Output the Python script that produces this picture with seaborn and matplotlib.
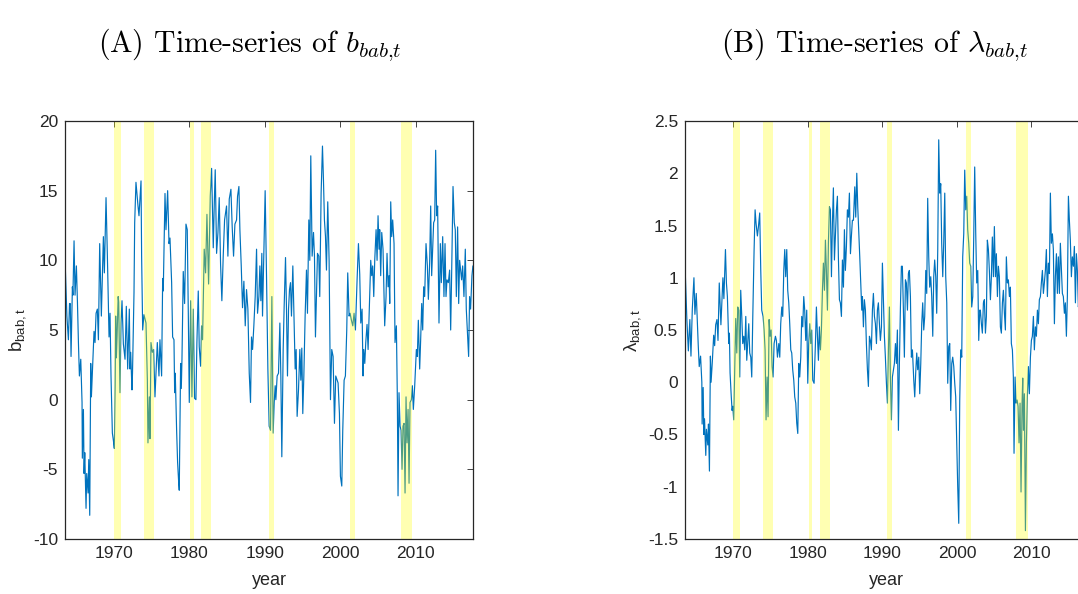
import matplotlib
matplotlib.use("Agg")
import matplotlib.pyplot as plt
import seaborn as sns
import pandas as pd
from matplotlib.ticker import FuncFormatter

sns.set_style("white")
plt.rcParams["font.family"] = ["Liberation Sans", "DejaVu Sans"]
plt.rcParams["axes.unicode_minus"] = False

# ---------------- data (decimal year, value) ----------------
b_bab_points = [
    (1963.51, 10.0), (1963.75, 6.0), (1963.95, 4.3), (1964.10, 6.9), (1964.20, 6.9), (1964.30, 3.1),
    (1964.48, 8.1), (1964.55, 7.5), (1964.70, 11.4), (1964.83, 7.5), (1965.01, 9.6), (1965.15, 7.0),
    (1965.28, 4.1), (1965.41, 1.7), (1965.59, 2.9), (1965.70, 1.0), (1965.76, -0.2), (1965.80, -4.2),
    (1965.94, -0.7), (1966.03, -5.3), (1966.12, -3.8), (1966.29, -7.8), (1966.38, -5.3), (1966.56, -6.7),
    (1966.65, -4.3), (1966.78, -8.3), (1966.91, 2.6), (1967.00, 0.2), (1967.17, 2.4), (1967.35, 4.9),
    (1967.48, 4.1), (1967.62, 6.2), (1967.79, 6.5), (1967.93, 4.3), (1968.10, 11.2), (1968.32, 6.0),
    (1968.59, 11.7), (1968.72, 9.1), (1968.94, 14.5), (1969.12, 10.3), (1969.34, 4.5), (1969.47, 6.2),
    (1969.60, 1.7), (1969.78, -2.4), (1969.91, -2.9), (1970.04, -3.5), (1970.15, 1.0), (1970.22, 6.0),
    (1970.31, 3.0), (1970.40, 4.5), (1970.55, 7.4), (1970.62, 7.0), (1970.79, 0.5), (1970.93, 5.5),
    (1971.06, 7.1), (1971.24, 4.0), (1971.46, 2.9), (1971.63, 6.7), (1971.81, 2.2), (1972.03, 6.5),
    (1972.12, 2.2), (1972.21, 3.4), (1972.38, 0.7), (1972.45, 1.9), (1972.65, 7.7), (1972.74, 12.7),
    (1972.91, 15.6), (1973.18, 13.9), (1973.31, 13.2), (1973.58, 15.7), (1973.66, 10.3), (1973.80, 5.0),
    (1973.97, 6.1), (1974.24, 5.5), (1974.42, 1.4), (1974.50, -3.1), (1974.68, 0.2), (1974.77, -2.8),
    (1974.90, 4.1), (1975.08, 3.4), (1975.25, 3.6), (1975.43, 0.2), (1975.74, 4.1), (1975.96, 1.7),
    (1976.09, 4.3), (1976.31, 1.7), (1976.45, 8.7), (1976.53, 7.8), (1976.76, 14.8), (1976.89, 12.2),
    (1977.11, 15.0), (1977.29, 11.2), (1977.42, 11.6), (1977.64, 8.4), (1977.77, 4.5), (1977.95, 4.3),
    (1978.04, 0.5), (1978.12, 1.9), (1978.30, -2.2), (1978.43, -4.5), (1978.57, -5.9), (1978.65, -6.5),
    (1978.83, 2.6), (1978.92, 0.8), (1979.01, 2.9), (1979.18, 9.2), (1979.36, 6.9), (1979.54, 12.6),
    (1979.71, 12.2), (1979.85, 6.2), (1979.98, -0.2), (1980.16, 7.1), (1980.33, 0.2), (1980.51, 6.5),
    (1980.68, 0.1), (1980.86, 0.0), (1980.99, 4.1), (1981.17, 7.8), (1981.30, 3.8), (1981.48, 2.4),
    (1981.61, 5.3), (1981.74, 4.3), (1981.96, 10.8), (1982.14, 9.1), (1982.32, 13.3), (1982.54, 8.3),
    (1982.76, 14.6), (1982.94, 16.6), (1983.16, 10.9), (1983.29, 14.0), (1983.42, 16.5), (1983.60, 10.5),
    (1983.78, 12.0), (1983.95, 14.5), (1984.13, 9.7), (1984.30, 7.1), (1984.48, 10.3), (1984.66, 12.9),
    (1984.92, 13.9), (1985.10, 10.3), (1985.28, 14.4), (1985.50, 15.1), (1985.67, 12.4), (1985.85, 10.3),
    (1986.03, 12.6), (1986.25, 12.9), (1986.38, 14.6), (1986.56, 15.3), (1986.69, 12.2), (1986.87, 9.6),
    (1987.04, 6.6), (1987.22, 8.5), (1987.40, 5.3), (1987.57, 7.9), (1987.75, 6.5), (1987.93, 1.9),
    (1988.10, -0.2), (1988.23, 4.5), (1988.37, 3.6), (1988.54, 5.3), (1988.72, 7.4), (1988.90, 10.8),
    (1989.03, 6.2), (1989.21, 7.4), (1989.34, 9.6), (1989.47, 7.1), (1989.60, 10.5), (1989.69, 6.0),
    (1989.87, 10.5), (1990.04, 15.0), (1990.22, 8.9), (1990.40, 2.2), (1990.57, -1.9), (1990.75, -2.2),
    (1990.93, 7.4), (1991.10, -2.4), (1991.24, -0.2), (1991.37, 1.0), (1991.46, 0.0), (1991.63, 1.7),
    (1991.81, 1.9), (1991.99, 5.5), (1992.12, 1.7), (1992.25, -4.1), (1992.43, 3.6), (1992.56, 6.7),
    (1992.74, 10.2), (1992.87, 6.5), (1993.00, 1.7), (1993.14, 6.5), (1993.27, 7.9), (1993.40, 8.4),
    (1993.53, 6.0), (1993.71, 9.6), (1993.84, 6.5), (1994.02, 2.2), (1994.15, 3.6), (1994.28, -1.2),
    (1994.46, 0.7), (1994.64, 3.6), (1994.77, 1.4), (1994.90, 3.7), (1995.03, -1.0), (1995.17, 1.7),
    (1995.34, 6.0), (1995.52, 9.3), (1995.65, 6.2), (1995.83, 12.9), (1995.96, 10.0), (1996.09, 17.5),
    (1996.27, 10.3), (1996.45, 12.0), (1996.58, 10.3), (1996.71, 4.5), (1996.84, 7.4), (1996.98, 10.5),
    (1997.15, 10.3), (1997.28, 7.4), (1997.46, 14.8), (1997.64, 18.2), (1997.77, 15.8), (1997.90, 12.9),
    (1998.04, 11.7), (1998.17, 9.3), (1998.34, 14.2), (1998.52, 10.0), (1998.70, 0.0), (1998.87, 3.6),
    (1999.05, 3.1), (1999.23, -1.7), (1999.40, 1.7), (1999.58, 1.4), (1999.71, 1.2), (1999.89, -1.0),
    (2000.02, -5.5), (2000.20, -6.2), (2000.33, -2.2), (2000.51, 1.4), (2000.68, 1.7), (2000.86, 5.0),
    (2000.99, 9.1), (2001.17, 6.0), (2001.30, 6.2), (2001.48, 5.7), (2001.66, 5.3), (2001.83, 6.2),
    (2002.01, 5.0), (2002.23, 8.6), (2002.41, 11.2), (2002.58, 9.0), (2002.72, 5.5), (2002.89, 6.5),
    (2003.02, 1.7), (2003.11, 3.6), (2003.25, 2.6), (2003.38, 4.1), (2003.55, 5.4), (2003.69, 3.6),
    (2003.82, 6.0), (2004.04, 10.0), (2004.17, 8.9), (2004.30, 9.6), (2004.44, 7.4), (2004.57, 10.0),
    (2004.75, 12.2), (2004.88, 10.0), (2005.01, 13.2), (2005.14, 10.8), (2005.23, 12.2), (2005.36, 8.9),
    (2005.50, 12.0), (2005.67, 10.8), (2005.89, 5.3), (2006.07, 7.4), (2006.20, 10.5), (2006.34, 8.1),
    (2006.47, 8.9), (2006.56, 6.9), (2006.69, 14.2), (2006.82, 11.7), (2006.95, 12.9), (2007.13, 11.2),
    (2007.26, 4.1), (2007.44, 5.3), (2007.57, 0.0), (2007.66, -6.9), (2007.79, 0.5), (2007.93, -1.9),
    (2008.06, -2.2), (2008.19, -5.0), (2008.32, -1.9), (2008.46, -1.7), (2008.59, -6.7), (2008.72, 0.2),
    (2008.85, -3.1), (2008.99, -0.7), (2009.12, -6.0), (2009.25, -0.2), (2009.43, 0.0), (2009.56, 1.0),
    (2009.69, -0.7), (2009.87, 1.0), (2010.09, 3.6), (2010.22, 3.1), (2010.35, 5.7), (2010.53, 2.2),
    (2010.66, 4.3), (2010.80, 6.9), (2010.93, 5.0), (2011.06, 8.1), (2011.19, 7.4), (2011.37, 11.2),
    (2011.55, 9.6), (2011.68, 7.2), (2011.85, 9.8), (2011.99, 13.9), (2012.12, 8.9), (2012.25, 10.8),
    (2012.38, 12.7), (2012.52, 12.9), (2012.65, 17.9), (2012.78, 13.2), (2012.91, 13.9), (2013.09, 5.5),
    (2013.27, 11.2), (2013.40, 8.4), (2013.58, 11.7), (2013.75, 7.4), (2013.89, 11.2), (2014.02, 7.4),
    (2014.15, 8.6), (2014.33, 8.4), (2014.50, 9.3), (2014.64, 5.0), (2014.77, 9.1), (2014.95, 15.3),
    (2015.12, 12.7), (2015.25, 12.2), (2015.39, 7.4), (2015.56, 12.4), (2015.70, 6.9), (2015.83, 10.0),
    (2015.96, 9.3), (2016.09, 8.6), (2016.23, 9.6), (2016.40, 7.4), (2016.58, 10.8), (2016.71, 6.5),
    (2016.89, 4.5), (2017.02, 3.1), (2017.15, 7.4), (2017.28, 6.5), (2017.46, 8.9), (2017.59, 9.6),
]

lambda_bab_points = [
    (1963.51, 1.10), (1963.75, 0.60), (1963.95, 0.30), (1964.15, 0.60), (1964.30, 0.25), (1964.48, 0.70),
    (1964.70, 1.00), (1964.83, 0.65), (1965.01, 0.85), (1965.28, 0.35), (1965.41, 0.15), (1965.59, 0.25),
    (1965.76, 0.00), (1965.80, -0.40), (1965.94, -0.05), (1966.03, -0.50), (1966.12, -0.35), (1966.29, -0.70),
    (1966.38, -0.45), (1966.56, -0.60), (1966.65, -0.40), (1966.78, -0.85), (1966.91, 0.25), (1967.00, 0.00),
    (1967.17, 0.20), (1967.35, 0.45), (1967.48, 0.35), (1967.62, 0.55), (1967.79, 0.60), (1967.93, 0.40),
    (1968.10, 0.95), (1968.32, 0.55), (1968.59, 1.00), (1968.72, 0.80), (1968.93, 1.27),
    (1969.06, 0.95), (1969.19, 0.82), (1969.37, 0.37), (1969.46, 0.47), (1969.55, 0.09), (1969.69, -0.11),
    (1969.82, -0.27), (1969.91, -0.23), (1970.04, -0.36), (1970.18, 0.12), (1970.31, 0.61), (1970.45, 0.28),
    (1970.58, 0.72), (1970.72, 0.69), (1970.85, 0.05), (1970.98, 0.88), (1971.12, 0.63), (1971.25, 0.37),
    (1971.39, 0.44), (1971.52, 0.31), (1971.66, 0.63), (1971.79, 0.21), (1971.92, 0.37), (1972.06, 0.56),
    (1972.19, 0.28), (1972.33, 0.24), (1972.46, 0.05), (1972.60, 0.63), (1972.77, 1.25), (1972.91, 1.65),
    (1973.04, 1.52), (1973.22, 1.40), (1973.36, 1.49), (1973.53, 1.62), (1973.67, 1.07), (1973.80, 0.69),
    (1973.98, 0.63), (1974.12, 0.50), (1974.25, 0.31), (1974.38, -0.36), (1974.52, 0.05), (1974.65, -0.33),
    (1974.79, 0.60), (1974.92, 0.44), (1975.06, 0.50), (1975.19, 0.15), (1975.32, 0.05), (1975.46, 0.37),
    (1975.64, 0.44), (1975.77, 0.40), (1975.91, 0.24), (1976.09, 0.37), (1976.22, 0.24), (1976.35, 0.56),
    (1976.49, 0.72), (1976.62, 0.63), (1976.76, 1.07), (1976.89, 1.27), (1977.02, 1.01), (1977.16, 1.27),
    (1977.29, 0.88), (1977.43, 0.76), (1977.56, 0.56), (1977.70, 0.31), (1977.83, 0.28), (1977.96, 0.12),
    (1978.10, 0.02), (1978.23, -0.14), (1978.37, -0.20), (1978.50, -0.39), (1978.64, -0.49), (1978.77, 0.18),
    (1978.90, 0.05), (1979.04, 0.24), (1979.17, 0.63), (1979.31, 0.53), (1979.44, 0.82), (1979.57, 0.69),
    (1979.71, 0.40), (1979.84, 0.69), (1979.98, -0.01), (1980.11, 0.37), (1980.25, 0.56), (1980.38, 0.37),
    (1980.51, 0.50), (1980.65, 0.02), (1980.83, -0.01), (1981.01, 0.37),
    (1981.14, 0.72), (1981.28, 0.44), (1981.41, 0.21), (1981.54, 0.53), (1981.68, 0.31), (1981.81, 0.50),
    (1981.95, 0.88), (1982.08, 1.14), (1982.22, 0.88), (1982.35, 1.36), (1982.48, 1.07), (1982.62, 0.69),
    (1982.75, 1.33), (1982.89, 1.68), (1983.02, 1.65), (1983.16, 1.01), (1983.29, 1.52), (1983.42, 1.86),
    (1983.56, 1.17), (1983.69, 1.40), (1983.83, 1.65), (1983.96, 1.78), (1984.09, 1.20), (1984.23, 0.79),
    (1984.36, 0.76), (1984.50, 0.63), (1984.63, 1.17), (1984.77, 0.91), (1984.90, 1.46), (1985.03, 1.07),
    (1985.17, 1.30), (1985.30, 1.65), (1985.44, 1.58), (1985.57, 1.81), (1985.71, 1.23), (1985.84, 1.40),
    (1985.97, 1.55), (1986.11, 1.55), (1986.29, 1.87), (1986.42, 1.58), (1986.56, 2.00), (1986.69, 1.68),
    (1986.82, 1.46), (1986.96, 1.20), (1987.09, 0.95), (1987.23, 0.69), (1987.32, 0.82), (1987.45, 0.53),
    (1987.58, 0.79), (1987.72, 0.69), (1987.85, 0.37), (1987.99, 0.12), (1988.12, -0.04), (1988.26, 0.44),
    (1988.39, 0.40), (1988.52, 0.31), (1988.66, 0.69), (1988.79, 0.85), (1988.93, 0.63), (1989.06, 0.56),
    (1989.20, 0.37), (1989.33, 0.69), (1989.46, 0.76), (1989.60, 0.56), (1989.73, 0.40), (1989.87, 0.53),
    (1990.00, 1.14), (1990.13, 0.82), (1990.27, 0.44), (1990.40, 0.24), (1990.54, -0.01), (1990.67, -0.20),
    (1990.81, 0.31), (1990.94, 0.72), (1991.07, 0.05), (1991.21, -0.36), (1991.34, 0.05), (1991.48, 0.12),
    (1991.61, 0.18),
    (1991.75, 0.37), (1991.88, 0.18), (1992.01, 0.50), (1992.15, -0.46), (1992.28, 0.18), (1992.42, 0.72),
    (1992.55, 1.11), (1992.68, 1.11), (1992.82, 0.69), (1992.95, 0.24), (1993.09, 0.98), (1993.22, 0.95),
    (1993.36, 0.69), (1993.49, 1.04), (1993.62, 1.07), (1993.76, 0.82), (1993.89, 0.24), (1994.03, 0.31),
    (1994.21, 0.02), (1994.34, -0.14), (1994.47, 0.09), (1994.61, 0.28), (1994.74, 0.12), (1994.88, 0.24),
    (1995.01, -0.11), (1995.15, 0.18), (1995.28, 0.56), (1995.41, 0.76), (1995.55, 0.50), (1995.68, 0.63),
    (1995.82, 1.07), (1995.95, 0.85), (1996.08, 1.76), (1996.22, 1.20), (1996.35, 0.91), (1996.49, 1.01),
    (1996.62, 0.82), (1996.76, 0.44), (1996.89, 1.01), (1997.02, 1.17), (1997.16, 1.01), (1997.29, 0.66),
    (1997.43, 1.27), (1997.56, 2.32), (1997.70, 1.81), (1997.83, 1.90), (1997.96, 1.33), (1998.10, 1.01),
    (1998.23, 1.33), (1998.37, 1.81), (1998.50, 1.01), (1998.64, 0.76), (1998.77, -0.01), (1998.90, 0.34),
    (1999.04, 0.37), (1999.17, -0.27), (1999.31, 0.18), (1999.44, 0.24), (1999.58, 0.15), (1999.71, -0.01),
    (1999.84, -0.14), (1999.98, -0.58), (2000.11, -1.00), (2000.25, -1.35), (2000.38, -0.17), (2000.51, 0.31),
    (2000.65, 0.24), (2000.78, 1.20), (2000.92, 1.42), (2001.05, 2.03), (2001.19, 1.65), (2001.32, 1.78),
    (2001.45, 1.46), (2001.59, 1.33), (2001.72, 1.14), (2001.86, 1.11), (2001.99, 0.72), (2002.13, 0.82),
    (2002.26, 1.39), (2002.39, 2.06), (2002.53, 1.42), (2002.66, 0.95), (2002.80, 1.07), (2002.93, 0.40),
    (2003.07, 0.69),
    (2003.15, 0.69), (2003.29, 0.56), (2003.42, 0.47), (2003.56, 0.76), (2003.69, 0.79), (2003.83, 0.47),
    (2003.96, 0.63), (2004.09, 1.36), (2004.23, 1.27), (2004.36, 1.07), (2004.50, 0.79), (2004.63, 1.01),
    (2004.76, 1.39), (2004.90, 1.01), (2005.03, 1.49), (2005.17, 1.01), (2005.30, 1.23), (2005.44, 0.82),
    (2005.57, 1.11), (2005.70, 1.01), (2005.84, 0.53), (2005.97, 0.47), (2006.11, 0.76), (2006.24, 0.88),
    (2006.38, 0.66), (2006.51, 0.50), (2006.64, 1.20), (2006.78, 0.95), (2006.91, 0.98), (2007.05, 0.82),
    (2007.18, 0.91), (2007.31, 0.37), (2007.45, 0.31), (2007.58, 0.05), (2007.67, -0.68), (2007.81, 0.05),
    (2007.94, -0.20), (2008.08, -0.17), (2008.21, -0.23), (2008.34, -0.58), (2008.48, -0.20), (2008.61, -1.05),
    (2008.75, -0.20), (2008.84, 0.04), (2008.93, -0.46), (2009.06, -0.11), (2009.20, -1.42), (2009.33, -0.58),
    (2009.46, -0.14), (2009.60, 0.15), (2009.73, -0.11), (2009.87, 0.24), (2010.00, 0.40), (2010.13, 0.44),
    (2010.27, 0.63), (2010.40, 0.31), (2010.54, 0.53), (2010.67, 0.44), (2010.81, 0.69), (2010.94, 0.56),
    (2011.07, 0.79), (2011.21, 0.82), (2011.34, 0.95), (2011.48, 1.07), (2011.61, 0.85), (2011.74, 0.95),
    (2011.88, 1.07), (2012.01, 1.27), (2012.15, 0.82), (2012.28, 1.14), (2012.42, 1.04), (2012.55, 1.81),
    (2012.68, 1.33), (2012.82, 1.42), (2012.95, 1.27), (2013.09, 0.56), (2013.22, 1.01), (2013.36, 1.23),
    (2013.49, 0.85), (2013.62, 1.20), (2013.76, 0.85), (2013.89, 1.33), (2014.03, 1.07), (2014.16, 0.85),
    (2014.29, 0.82), (2014.43, 0.66), (2014.56, 0.76), (2014.70, 0.44), (2014.83, 0.82), (2014.97, 1.78),
    (2015.10, 1.55), (2015.23, 1.36), (2015.37, 1.01), (2015.50, 1.20), (2015.64, 1.11), (2015.77, 1.30),
    (2015.91, 0.76), (2016.04, 1.23), (2016.17, 1.07), (2016.31, 0.72), (2016.50, 0.90), (2016.90, 0.50),
    (2017.20, 0.90), (2017.59, 1.00),
]

# NBER recessions (peak month end to trough month end)
rec_start = [1970.00, 1973.92, 1980.08, 1981.58, 1990.58, 2001.25, 2008.00]
rec_end = [1970.92, 1975.25, 1980.58, 1982.92, 1991.25, 2001.92, 2009.50]

year_ticks = [1970, 1980, 1990, 2000, 2010]
b_ticks = [-10, -5, 0, 5, 10, 15, 20]
lam_ticks = [-1.5, -1, -0.5, 0, 0.5, 1, 1.5, 2, 2.5]

df_b = pd.DataFrame(b_bab_points, columns=["year", "value"])
df_l = pd.DataFrame(lambda_bab_points, columns=["year", "value"])

W, H = 1078, 594
fig = plt.figure(figsize=(W / 100, H / 100), dpi=100)
axA = fig.add_axes([65 / W, 55 / H, 408 / W, 418 / H])
axB = fig.add_axes([685 / W, 55 / H, 403 / W, 418 / H])

line_color = "#0072BD"
axis_color = "#262626"
fmt = FuncFormatter(lambda v, p: "%g" % v)


def draw(ax, df, yticks, ylabel):
    sns.lineplot(data=df, x="year", y="value", ax=ax, color=line_color, linewidth=0.85,
                 estimator=None, sort=False, legend=False, zorder=2)
    for s, e in zip(rec_start, rec_end):
        ax.axvspan(s, e, color=(1.0, 1.0, 0.0), alpha=0.3, lw=0, zorder=3)
    ax.set_xlim(1963.5, 2017.6)
    ax.set_ylim(yticks[0], yticks[-1])
    ax.set_xticks(year_ticks)
    ax.set_yticks(yticks)
    ax.xaxis.set_major_formatter(fmt)
    ax.yaxis.set_major_formatter(fmt)
    ax.tick_params(direction="in", length=4, width=0.6, colors=axis_color, labelsize=12.5,
                   top=True, right=True, pad=5)
    for sp in ax.spines.values():
        sp.set_color(axis_color)
        sp.set_linewidth(0.9)
        sp.set_zorder(5)
    ax.set_xlabel("year", fontsize=13, color=axis_color, labelpad=8)
    ax.set_ylabel(ylabel, fontsize=13.5, color=axis_color, labelpad=3)


draw(axA, df_b, b_ticks, r"b$_{\mathregular{bab,t}}$")
draw(axB, df_l, lam_ticks, r"λ$_{\mathregular{bab,t}}$")

fig.text(250 / W, 1 - 45 / H, r"(A) Time-series of $b_{bab{,}t}$", ha="center", va="center",
         fontsize=21.5, family="cmr10", math_fontfamily="cm", color="black")
fig.text(875 / W, 1 - 45 / H, r"(B) Time-series of $\lambda_{bab{,}t}$", ha="center", va="center",
         fontsize=21.5, family="cmr10", math_fontfamily="cm", color="black")

fig.savefig("out.png", dpi=100, facecolor="white")
